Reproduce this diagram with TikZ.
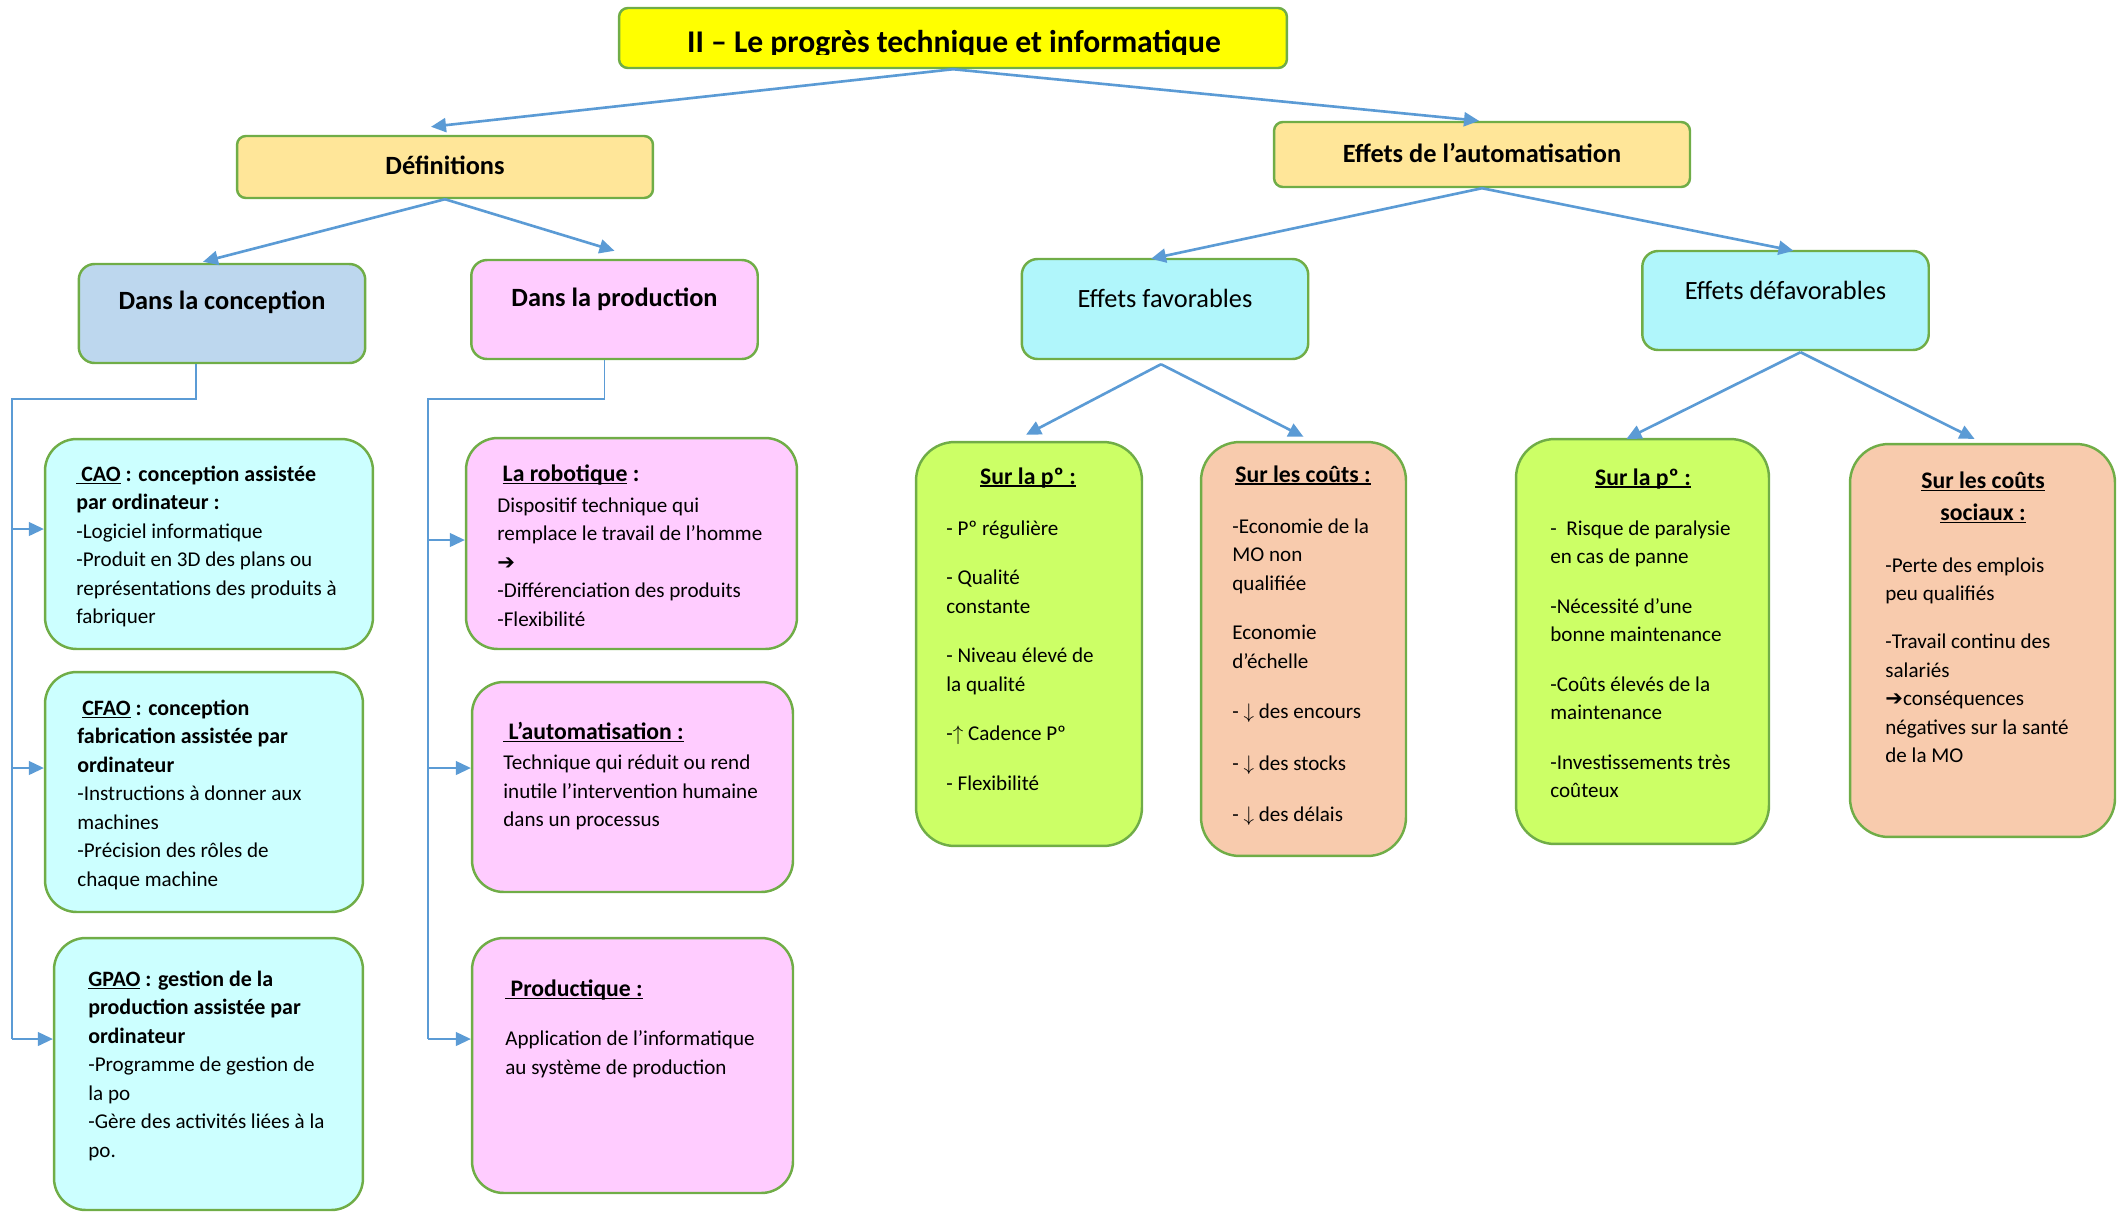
\documentclass[tikz,border=0pt]{standalone}
\usepackage{fontspec}
\setmainfont{Carlito}
\newfontfamily\symfont{DejaVu Sans}
\usetikzlibrary{arrows.meta,calc}

\definecolor{bgreen}{HTML}{70AD47}
\definecolor{lblue}{HTML}{5B9BD5}
\definecolor{tyellow}{HTML}{FFFF00}
\definecolor{tgold}{HTML}{FFE699}
\definecolor{tblue}{HTML}{BDD7EE}
\definecolor{tpink}{HTML}{FFCCFF}
\definecolor{tcyan}{HTML}{B0F6FB}
\definecolor{tpale}{HTML}{CCFFFF}
\definecolor{tlime}{HTML}{CCFF66}
\definecolor{tpeach}{HTML}{F8CBAD}

\newcommand{\bstrut}{\rule{0pt}{12pt}}
\newcommand{\bh}[1]{{\fontsize{12.5}{16.2}\selectfont\bfseries #1}}
\newcommand{\sh}[1]{{\fontsize{13.5}{16.2}\selectfont\bfseries #1}}
\newcommand{\harrow}{{\symfont\bfseries ➔}}
\newcommand{\uln}[1]{\leavevmode\setbox0\hbox{#1}\rlap{\rule[-1.7pt]{\wd0}{0.9pt}}\box0\relax}

\begin{document}
\begin{tikzpicture}[x=0.02cm, y=-0.02cm,
  box/.style={draw=bgreen, line width=1.4pt, inner sep=0pt},
  topbox/.style={box, fill=tyellow, rounded corners=5pt, minimum width=13.36cm, minimum height=1.2cm},
  lvlbox/.style={box, fill=tgold, rounded corners=5pt, minimum width=8.32cm},
  subbox/.style={box, rounded corners=9pt, minimum width=5.73cm},
  card/.style={box, rounded corners=18pt},
  col/.style={box, rounded corners=22pt},
  ttl/.style={anchor=base, inner sep=0pt, font=\fontsize{18}{22}\selectfont\bfseries},
  lab/.style={anchor=base, inner sep=0pt, font=\fontsize{15}{18}\selectfont\bfseries},
  labn/.style={lab, font=\fontsize{15}{18}\selectfont},
  body/.style={anchor=north west, inner sep=0pt, yshift=12pt, align=left, font=\fontsize{12}{16.2}\selectfont},
  head/.style={anchor=base, inner sep=0pt, font=\fontsize{13.5}{18.2}\selectfont\bfseries},
  link/.style={-{Triangle[length=0.3cm, width=0.28cm]}, lblue, line width=1.5pt},
  trunk/.style={lblue, line width=0.7pt},
  branch/.style={trunk, -{Triangle[length=0.3cm, width=0.28cm]}},
]
\useasboundingbox (0,0) rectangle (2125,1211);

% ---------------- top levels ----------------
\node[topbox] (title) at (953,38) {};
\begin{scope}
  \clip (619,8) rectangle (1287,54);
  \node[ttl] (titlet) at (954,52.5) {II – Le progrès technique et informatique};
\end{scope}
\node[lvlbox, minimum height=1.24cm] (defs) at (445,167) {};
\node[lab] (defst) at (445,174) {Définitions};
\node[lvlbox, minimum height=1.3cm] (auto) at (1482,154.5) {};
\node[lab] (autot) at (1482,162) {Effets de l’automatisation};

\node[subbox, fill=tblue, minimum height=1.98cm] (conc) at (222,313.5) {};
\node[lab] (conct) at (222,309) {Dans la conception};
\node[subbox, fill=tpink, minimum height=1.98cm] (prod) at (614.5,309.5) {};
\node[lab] (prodt) at (614.5,306) {Dans la production};
\node[subbox, fill=tcyan, minimum height=2cm] (fav) at (1165,309) {};
\node[labn] (favt) at (1165,307) {Effets favorables};
\node[subbox, fill=tcyan, minimum height=1.98cm] (defav) at (1785.5,300.5) {};
\node[labn] (defavt) at (1785.5,299) {Effets défavorables};

% ---------------- definitions ----------------
\node[card, fill=tpale, minimum width=6.56cm, minimum height=4.2cm] (cao) at (209,544) {};
\node[body] (caot) at (76,481) {\bstrut\bh{\uln{\ CAO} : conception assistée}\\
  \bh{par ordinateur :}\\
  -Logiciel informatique\\
  -Produit en 3D des plans ou\\
  représentations des produits à\\
  fabriquer};
\node[card, fill=tpale, minimum width=6.36cm, minimum height=4.8cm] (cfao) at (204,792) {};
\node[body] (cfaot) at (77,715) {\bstrut\bh{\ \uln{CFAO} : conception}\\
  \bh{fabrication assistée par}\\
  \bh{ordinateur}\\
  -Instructions à donner aux\\
  machines\\
  -Précision des rôles de\\
  chaque machine};
\node[card, fill=tpale, minimum width=6.18cm, minimum height=5.44cm] (gpao) at (208.5,1074) {};
\node[body] (gpaot) at (88,986) {\bstrut\bh{\uln{GPAO} : gestion de la}\\
  \bh{production assistée par}\\
  \bh{ordinateur}\\
  -Programme de gestion de\\
  la po\\
  -Gère des activités liées à la\\
  po.};

\node[card, fill=tpink, minimum width=6.62cm, minimum height=4.22cm] (robot) at (631.5,543.5) {};
\node[body] (robott) at (497,481) {\bstrut\sh{\ \uln{La robotique} :}\\[1.5pt]
  Dispositif technique qui\\
  remplace le travail de l’homme\\
  \harrow\\
  -Différenciation des produits\\
  -Flexibilité};
\node[card, fill=tpink, minimum width=6.42cm, minimum height=4.2cm] (autom) at (632.5,787) {};
\node[body] (automt) at (503,739) {\bstrut\sh{\uln{\ L’automatisation :}}\\[1pt]
  Technique qui réduit ou rend\\
  inutile l’intervention humaine\\
  dans un processus};
\node[card, fill=tpink, minimum width=6.42cm, minimum height=5.1cm] (prodq) at (632.5,1065.5) {};
\node[body] (prodqt) at (505,996) {\bstrut\sh{\uln{\ Productique :}}\\[12pt]
  Application de l’informatique\\
  au système de production};

% ---------------- effects ----------------
\node[col, fill=tlime, minimum width=4.52cm, minimum height=8.08cm] (surp1) at (1029,644) {};
\node[head] (surp1h) at (1028,484) {\uln{Sur la pº :}};
\node[body] (surp1t) at (946,535) {\bstrut- Pº régulière\\[12pt]
  - Qualité\\
  constante\\[12pt]
  - Niveau élevé de\\
  la qualité\\[12pt]
  -$\uparrow$ Cadence Pº\\[12pt]
  - Flexibilité};
\node[col, fill=tpeach, minimum width=4.1cm, minimum height=8.28cm] (cout1) at (1303.5,649) {};
\node[head] (cout1h) at (1303,482) {\uln{Sur les coûts :}};
\node[body] (cout1t) at (1232,533) {\bstrut-Economie de la\\
  MO non\\
  qualifiée\\[12pt]
  Economie\\
  d’échelle\\[12.5pt]
  - $\downarrow$ des encours\\[13pt]
  - $\downarrow$ des stocks\\[13pt]
  - $\downarrow$ des délais};
\node[col, fill=tlime, minimum width=5.06cm, minimum height=8.1cm] (surp2) at (1642.5,641.5) {};
\node[head] (surp2h) at (1643,485) {\uln{Sur la pº :}};
\node[body] (surp2t) at (1550,535) {\bstrut-\ \ Risque de paralysie\\
  en cas de panne\\[12pt]
  -Nécessité d’une\\
  bonne maintenance\\[12pt]
  -Coûts élevés de la\\
  maintenance\\[12pt]
  -Investissements très\\
  coûteux};
\node[col, fill=tpeach, minimum width=5.3cm, minimum height=7.86cm] (cout2) at (1982.5,640.5) {};
\node[head, anchor=north, yshift=12pt, align=center] (cout2h) at (1983,488) {\bstrut\uln{Sur les coûts}\\\uln{sociaux :}};
\node[body] (cout2t) at (1885,572) {\bstrut-Perte des emplois\\
  peu qualifiés\\[11pt]
  -Travail continu des\\
  salariés\\
  \harrow conséquences\\
  négatives sur la santé\\
  de la MO};

% ---------------- tree links ----------------
\draw[link] (title.south) -- ($(defs.north)+(-14,-8)$);
\draw[link] (title.south) -- ($(auto.north)+(-3,0)$);
\draw[link] (defs.south) -- ($(conc.north)+(-19,-1)$);
\draw[link] (defs.south) -- ($(prod.north)+(0,-8)$);
\draw[link] (auto.south) -- ($(fav.north)+(-14,1)$);
\draw[link] (auto.south) -- ($(defav.north)+(8,1)$);
\draw[link] ($(fav.south)+(-4,4)$) -- ($(surp1.north)+(-3,-6)$);
\draw[link] ($(fav.south)+(-4,4)$) -- ($(cout1.north)+(0,-4)$);
\draw[link] ($(defav.south)+(15,1)$) -- ($(surp2.north)+(-16,1)$);
\draw[link] ($(defav.south)+(15,1)$) -- ($(cout2.north)+(-8,-4)$);

% ---------------- elbow trunks ----------------
\coordinate (lk) at (12,399);
\coordinate (rk) at (428,399);
\coordinate (l1) at (12,529);
\coordinate (l2) at (12,768);
\coordinate (l3) at (12,1039);
\coordinate (r1) at (428,540);
\coordinate (r2) at (428,768);
\coordinate (r3) at (428,1039);
\draw[trunk] ($(conc.south)+(-26,0)$) |- (lk) -- (l3);
\draw[trunk] ($(prod.south)+(-10,0)$) |- (rk) -- (r3);
\foreach \c/\b in {l1/cao, l2/cfao, l3/gpao, r1/robot, r2/autom, r3/prodq}
  \draw[branch] (\c) -- (\c -| \b.west);

\end{tikzpicture}
\end{document}
